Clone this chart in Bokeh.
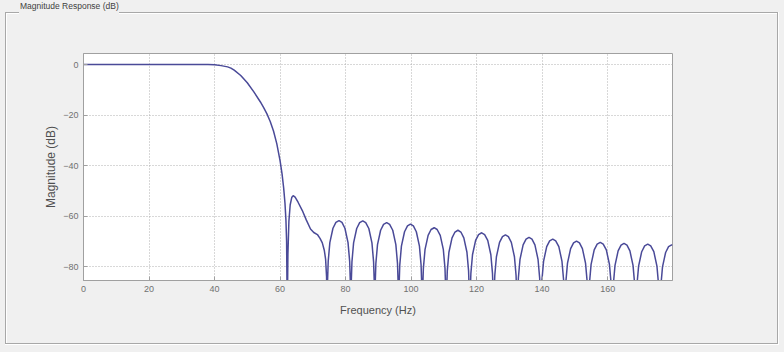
from bokeh.plotting import figure
from bokeh.models import Range1d, FixedTicker, Div
from bokeh.layouts import column
from bokeh.embed import file_html
from bokeh.resources import INLINE

# ---- data (frequency in Hz, magnitude in dB) ----
pass_freq = [0, 10, 20, 30, 38, 40, 42, 44, 45, 46, 48, 50, 52, 54, 55, 56, 57, 58,
             59, 60, 60.6, 61.1, 61.5, 61.8, 62.0, 62.2]
pass_db = [0, 0, 0, 0, 0, -0.1, -0.4, -0.9, -1.4, -2.2, -4.3, -7.2, -10.8, -14.8,
           -17.0, -19.5, -22.5, -26.3, -31.3, -38.0, -43.2, -48.8, -54.8, -61.7,
           -70.0, -100]

lobe1_freq = [62.4, 62.7, 63.1, 63.6, 64.0, 64.6, 65.5, 66.8, 68.0, 69.3, 70.3,
              71.4, 72.2, 72.9, 73.5, 73.9, 74.2, 74.35]
lobe1_db = [-75.0, -62.0, -55.5, -52.5, -51.9, -52.5, -54.5, -57.8, -61.5, -65.1,
            -66.5, -67.3, -68.8, -70.6, -73.5, -77.0, -84.0, -100]

stop_freq = [
    74.5, 74.7, 75.2, 76.15, 77.05, 78.0, 78.9, 79.8, 80.75, 81.25, 81.45, 81.6,
    81.75, 81.95, 82.45, 83.4, 84.3, 85.25, 86.15, 87.1, 88.05, 88.55, 88.75, 88.9,
    89.05, 89.25, 89.75, 90.7, 91.6, 92.55, 93.45, 94.4, 95.35, 95.85, 96.05, 96.2,
    96.35, 96.55, 97.05, 98.0, 98.9, 99.8, 100.7, 101.6, 102.55, 103.05, 103.25, 103.4,
    103.55, 103.75, 104.25, 105.2, 106.1, 107.05, 107.95, 108.9, 109.85, 110.35, 110.55, 110.7,
    110.85, 111.05, 111.55, 112.5, 113.4, 114.3, 115.2, 116.1, 117.05, 117.55, 117.75, 117.9,
    118.05, 118.25, 118.75, 119.7, 120.6, 121.55, 122.45, 123.4, 124.35, 124.85, 125.05, 125.2,
    125.35, 125.55, 126.05, 127.0, 127.9, 128.8, 129.7, 130.6, 131.55, 132.05, 132.25, 132.4,
    132.55, 132.75, 133.25, 134.2, 135.1, 136.0, 136.9, 137.8, 138.75, 139.25, 139.45, 139.6,
    139.75, 139.95, 140.45, 141.4, 142.3, 143.25, 144.15, 145.1, 146.05, 146.55, 146.75, 146.9,
    147.05, 147.25, 147.75, 148.7, 149.6, 150.5, 151.4, 152.3, 153.25, 153.75, 153.95, 154.1,
    154.25, 154.45, 154.95, 155.9, 156.8, 157.75, 158.65, 159.6, 160.55, 161.05, 161.25, 161.4,
    161.55, 161.75, 162.25, 163.2, 164.1, 165.0, 165.9, 166.8, 167.75, 168.25, 168.45, 168.6,
    168.75, 168.95, 169.45, 170.4, 171.3, 172.25, 173.15, 174.1, 175.05, 175.55, 175.75, 175.9,
    176.05, 176.25, 176.75, 177.7, 178.6, 179.55, 179.8,
]
stop_db = [
    -85.8, -77.9, -70.5, -64.8, -62.5, -61.8, -62.5, -64.8, -70.5, -77.9, -85.8, -100,
    -85.9, -78.0, -70.6, -64.9, -62.6, -61.9, -62.6, -64.9, -70.6, -78.0, -85.9, -100,
    -86.6, -78.7, -71.3, -65.6, -63.3, -62.6, -63.3, -65.6, -71.3, -78.7, -86.6, -100,
    -87.2, -79.3, -71.9, -66.2, -63.9, -63.2, -63.9, -66.2, -71.9, -79.3, -87.2, -100,
    -88.6, -80.7, -73.3, -67.6, -65.3, -64.6, -65.3, -67.6, -73.3, -80.7, -88.6, -100,
    -89.6, -81.7, -74.3, -68.6, -66.3, -65.6, -66.3, -68.6, -74.3, -81.7, -89.6, -100,
    -90.6, -82.7, -75.3, -69.6, -67.3, -66.6, -67.3, -69.6, -75.3, -82.7, -90.6, -100,
    -91.4, -83.5, -76.1, -70.4, -68.1, -67.4, -68.1, -70.4, -76.1, -83.5, -91.4, -100,
    -92.4, -84.5, -77.1, -71.4, -69.1, -68.4, -69.1, -71.4, -77.1, -84.5, -92.4, -100,
    -93.1, -85.2, -77.8, -72.1, -69.8, -69.1, -69.8, -72.1, -77.8, -85.2, -93.1, -100,
    -93.9, -86.0, -78.6, -72.9, -70.6, -69.9, -70.6, -72.9, -78.6, -86.0, -93.9, -100,
    -94.4, -86.5, -79.1, -73.4, -71.1, -70.4, -71.1, -73.4, -79.1, -86.5, -94.4, -100,
    -94.8, -86.9, -79.5, -73.8, -71.5, -70.8, -71.5, -73.8, -79.5, -86.9, -94.8, -100,
    -95.1, -87.2, -79.8, -74.1, -71.8, -71.1, -71.8, -74.1, -79.8, -87.2, -95.1, -100,
    -95.4, -87.5, -80.1, -74.4, -72.1, -71.4, -71.5,
]

x_ticks = [0, 20, 40, 60, 80, 100, 120, 140, 160]
y_ticks = [0, -20, -40, -60, -80]

panel_title = "Magnitude Response (dB)"
x_label = "Frequency (Hz)"
y_label = "Magnitude (dB)"

freq = pass_freq + lobe1_freq + stop_freq
mag = pass_db + lobe1_db + stop_db

PANEL = "#f0f0f0"
AXIS = "#a0a0a0"
EDGE = "#a8a8a8"
TXT = "#707070"
FONT = "Liberation Sans"

TITLE_H = 12

# group-box title above the figure
title_div = Div(text=panel_title, width=784, height=TITLE_H, margin=0,
                styles={"background-color": PANEL, "font-family": FONT,
                        "font-size": "8.5px", "color": "#404040",
                        "line-height": "13px", "text-indent": "20px",
                        "overflow": "hidden", "white-space": "nowrap"})

def seg(x, y, w, h, c):
    return f"linear-gradient({c},{c}) {x}px {y}px / {w}px {h}px no-repeat"

frame_css = ", ".join([
    seg(5, 0, 14, 1, EDGE), seg(119, 0, 658, 1, EDGE),
    seg(6, 1, 13, 1, "#ffffff"), seg(119, 1, 658, 1, "#ffffff"),
    seg(5, 0, 1, 331, EDGE), seg(6, 1, 1, 330, "#ffffff"),
    seg(777, 0, 1, 332, EDGE), seg(778, 0, 1, 333, "#ffffff"),
    seg(5, 331, 773, 1, EDGE), seg(5, 332, 774, 1, "#ffffff"),
]) + ", " + PANEL

p = figure(width=784, height=352 - TITLE_H, output_backend="svg",
           toolbar_location=None, margin=0,
           x_range=Range1d(0, 179.8), y_range=Range1d(-85.5, 4.4),
           min_border_left=83, min_border_right=112,
           min_border_top=53 - TITLE_H, min_border_bottom=72,
           background_fill_color="white", border_fill_color=None,
           outline_line_color=AXIS, styles={"background": frame_css})

p.line(freq, mag, line_color="#4a4a98", line_width=1.5)

for ax in (p.xaxis[0], p.yaxis[0]):
    ax.axis_line_color = AXIS
    ax.major_tick_line_color = AXIS
    ax.major_tick_in = 4
    ax.major_tick_out = 0
    ax.minor_tick_line_color = None
    ax.major_label_text_font = FONT
    ax.major_label_text_font_size = "9px"
    ax.major_label_text_color = TXT
    ax.axis_label_text_font = FONT
    ax.axis_label_text_font_style = "normal"
    ax.axis_label_text_color = "#505050"

p.xaxis[0].ticker = FixedTicker(ticks=x_ticks)
p.yaxis[0].ticker = FixedTicker(ticks=y_ticks)
p.xaxis[0].axis_label = x_label
p.yaxis[0].axis_label = y_label
p.xaxis[0].axis_label_text_font_size = "11px"
p.yaxis[0].axis_label_text_font_size = "12px"
p.xaxis[0].major_label_standoff = 5
p.yaxis[0].major_label_standoff = 5
p.xaxis[0].axis_label_standoff = 9
p.yaxis[0].axis_label_standoff = 2

p.grid.grid_line_color = "#b0b0b0"
p.grid.grid_line_dash = "1 2"
p.xgrid.ticker = FixedTicker(ticks=x_ticks)
p.ygrid.ticker = FixedTicker(ticks=y_ticks)

layout = column(title_div, p, spacing=0, margin=0,
                styles={"background-color": PANEL})

open("out.html", "w").write(file_html(layout, INLINE))
